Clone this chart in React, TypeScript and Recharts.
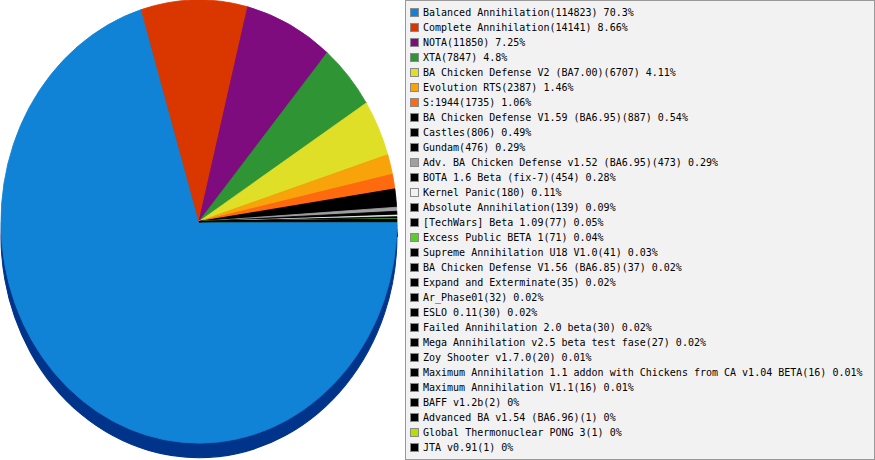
import React from 'react';
import { PieChart, Pie, Cell } from 'recharts';

const mods = [
  'Balanced Annihilation',
  'Complete Annihilation',
  'NOTA',
  'XTA',
  'BA Chicken Defense V2 (BA7.00)',
  'Evolution RTS',
  'S:1944',
  'BA Chicken Defense V1.59 (BA6.95)',
  'Castles',
  'Gundam',
  'Adv. BA Chicken Defense v1.52 (BA6.95)',
  'BOTA 1.6 Beta (fix-7)',
  'Kernel Panic',
  'Absolute Annihilation',
  '[TechWars] Beta 1.09',
  'Excess Public BETA 1',
  'Supreme Annihilation U18 V1.0',
  'BA Chicken Defense V1.56 (BA6.85)',
  'Expand and Exterminate',
  'Ar_Phase01',
  'ESLO 0.11',
  'Failed Annihilation 2.0 beta',
  'Mega Annihilation v2.5 beta test fase',
  'Zoy Shooter v1.7.0',
  'Maximum Annihilation 1.1 addon with Chickens from CA v1.04 BETA',
  'Maximum Annihilation V1.1',
  'BAFF v1.2b',
  'Advanced BA v1.54 (BA6.96)',
  'Global Thermonuclear PONG 3',
  'JTA v0.91',
];

const games = [
  114823, 14141, 11850, 7847, 6707, 2387, 1735, 887, 806, 476,
  473, 454, 180, 139, 77, 71, 41, 37, 35, 32,
  30, 30, 27, 20, 16, 16, 2, 1, 1, 1,
];

const shares = [
  '70.3%', '8.66%', '7.25%', '4.8%', '4.11%', '1.46%', '1.06%', '0.54%', '0.49%', '0.29%',
  '0.29%', '0.28%', '0.11%', '0.09%', '0.05%', '0.04%', '0.03%', '0.02%', '0.02%', '0.02%',
  '0.02%', '0.02%', '0.02%', '0.01%', '0.01%', '0.01%', '0%', '0%', '0%', '0%',
];

const colors = [
  '#1183d6', '#da3700', '#7f0c7f', '#2e9434', '#dfdf27', '#f8a30a', '#ff6a0f', '#000000', '#000000', '#000000',
  '#a0a0a0', '#000000', '#f2f2f2', '#000000', '#000000', '#5ccc2c', '#000000', '#000000', '#000000', '#000000',
  '#000000', '#000000', '#000000', '#000000', '#000000', '#000000', '#000000', '#000000', '#b4e000', '#000000',
];

const SIDE_COLOR = '#00348a';
const SCALE_Y = 1.119;

const data = mods.map((name, i) => ({ name, games: games[i] }));

function LegendBox() {
  return (
    <div
      style={{
        position: 'absolute',
        left: 405,
        top: 0,
        width: 470,
        height: 460,
        boxSizing: 'border-box',
        border: '1px solid #999',
        background: '#f2f2f2',
        paddingTop: 4,
        fontFamily: '"DejaVu Sans Mono", monospace',
        fontSize: 10,
        color: '#000',
      }}
    >
      {mods.map((name, i) => (
        <div key={name} style={{ display: 'flex', alignItems: 'center', height: 15, whiteSpace: 'nowrap' }}>
          <span
            style={{
              display: 'inline-block',
              width: 9,
              height: 9,
              boxSizing: 'border-box',
              border: '1px solid #8a8a8a',
              background: colors[i],
              marginLeft: 4,
              marginRight: 4,
            }}
          />
          <span>{`${name}(${games[i]}) ${shares[i]}`}</span>
        </div>
      ))}
    </div>
  );
}

export default function App() {
  return (
    <div style={{ position: 'absolute', left: 0, top: 0, width: 875, height: 460, background: '#fff', overflow: 'hidden' }}>
      <div style={{ position: 'absolute', left: 0, top: 0, transform: `scaleY(${SCALE_Y})`, transformOrigin: '0 0' }}>
        <PieChart width={400} height={412} margin={{ top: 0, right: 0, bottom: 0, left: 0 }}>
          <Pie
            data={data}
            dataKey="games"
            cx={199}
            cy={211}
            outerRadius={198}
            startAngle={0}
            endAngle={-360}
            stroke={SIDE_COLOR}
            strokeWidth={1}
            fill={SIDE_COLOR}
            isAnimationActive={false}
          />
          <Pie
            data={data}
            dataKey="games"
            cx={199}
            cy={198}
            outerRadius={198}
            startAngle={0}
            endAngle={-360}
            isAnimationActive={false}
          >
            {data.map((d, i) => (
              <Cell key={d.name} fill={colors[i]} stroke={colors[i]} strokeWidth={0.8} />
            ))}
          </Pie>
        </PieChart>
      </div>
      <LegendBox />
    </div>
  );
}
